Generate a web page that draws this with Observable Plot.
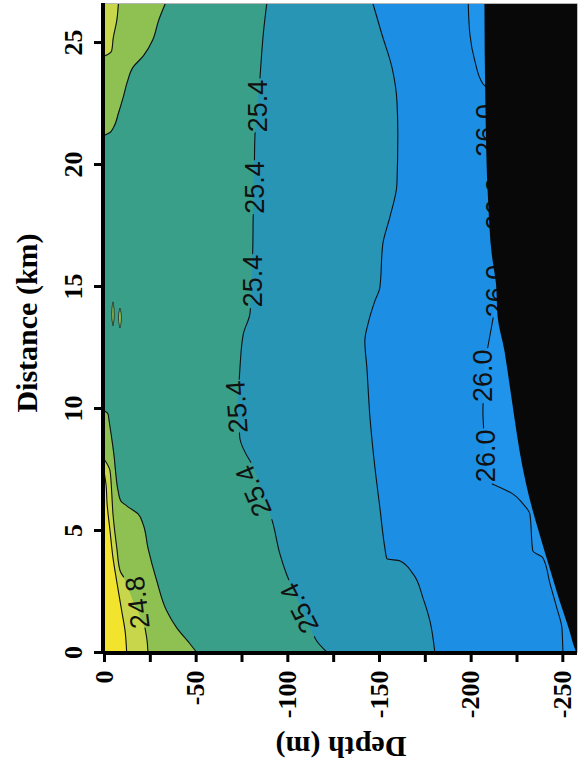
<!DOCTYPE html>
<html><head><meta charset="utf-8">
<script src="https://cdn.jsdelivr.net/npm/d3@7"></script>
<script src="https://cdn.jsdelivr.net/npm/@observablehq/plot@0.6"></script>
<style>
html,body{margin:0;padding:0;background:#fff;}
#chart{width:584px;height:769px;overflow:hidden;}
</style></head><body><div id="chart"></div>
<script>
// ---- axes ----
const distanceTicks = [0, 5, 10, 15, 20, 25];
const depthTicks = [0, -25, -50, -75, -100, -125, -150, -175, -200, -225, -250];
const depthLabelled = [0, -50, -100, -150, -200, -250];
const distanceDomain = [0, 26.6];
const depthDomain = [0, -258];

// ---- contour levels and band colours ----
const levels = ["24.5", "24.8", "25.1", "25.4", "25.7", "26.0"];
const bandColors = ["#f2e42c", "#c7d64a", "#8fc152", "#3a9f88", "#2995b4", "#1c8fe5", "#2093ea"];
const seafloorColor = "#080808";

// ---- contour lines: [distance km, depth m, drawn(1) / under a label(0)] ----
const c245Bottom = [[0,-12.1,1],[0.9,-11.2,1],[1.7,-9.4,1],[2.9,-6.7,1],[3.9,-4.6,1],[5.0,-3.0,1],[6.1,-1.4,1],[6.9,-0.8,1],[7.3,0,1]];
const c248Bottom = [[0,-23.7,1],[0.5,-23.2,1],[1.0,-22.1,1],[2.05,-16.0,0],[3.1,-10.4,1],[3.35,-8.5,1],[4.3,-6.7,1],[5.7,-4.6,1],[6.6,-3.9,1],[7.45,-3.0,1],[7.9,0,1]];
const c248Top = [[24.45,0,1],[24.52,-2.0,1],[24.66,-3.9,1],[25.2,-4.8,1],[25.9,-6.7,1],[26.6,-7.6,1]];
const c251Bottom = [[0,-50.3,1],[0.36,-46.6,1],[1.01,-39.4,1],[1.71,-33.9,1],[2.94,-28.5,1],[4.29,-23.7,1],[5.27,-21.0,1],[5.68,-18.3,1],[6.01,-12.1,1],[6.22,-8.8,1],[6.63,-7.4,1],[7.45,-6.0,1],[8.0,-5.3,1],[8.8,-3.9,1],[9.5,-2.5,1],[9.78,-1.9,1],[9.9,0,1]];
const c251Top = [[21.2,0,1],[21.3,-2.8,1],[21.5,-4.8,1],[22.1,-7.6,1],[22.75,-10.2,1],[23.4,-12.5,1],[24.0,-15.7,1],[24.45,-21.2,1],[25.1,-26.3,1],[25.9,-29.5,1],[26.6,-33.2,1]];
const c254 = [[0,-121.5,1],[0.48,-115.7,1],[0.65,-114.5,1],[1.84,-107.5,0],[2.98,-100.5,1],[3.21,-99.3,1],[4.03,-95.7,1],[5.26,-92.0,1],[5.45,-91.3,1],[6.6,-85.7,0],[7.8,-79.8,1],[7.86,-79.3,1],[8.75,-73.9,1],[9.0,-73.6,1],[10.07,-73.0,0],[11.2,-73.5,1],[11.68,-73.9,1],[13.05,-75.7,1],[13.87,-79.3,1],[14.1,-79.6,1],[15.23,-80.5,0],[16.35,-80.8,1],[16.6,-80.9,1],[17.83,-81.1,1],[17.95,-81.2,1],[19.06,-81.6,0],[20.2,-81.8,1],[21.25,-82.1,1],[21.3,-82.2,1],[22.4,-83.6,0],[23.55,-84.8,1],[23.98,-85.2,1],[25.34,-86.6,1],[26.6,-88.5,1]];
const c257 = [[0,-180.2,1],[1.3,-177.5,1],[2.24,-173.7,1],[3.23,-168.2,1],[3.76,-161.0,1],[3.84,-154.0,1],[4.3,-152.9,1],[5.94,-150.2,1],[7.58,-147.5,1],[9.63,-144.8,1],[11.68,-143.1,1],[12.77,-142.0,1],[13.46,-143.7,1],[14.41,-147.5,1],[14.96,-150.2,1],[16.74,-151.8,1],[17.83,-155.6,1],[19.2,-159.5,1],[21.25,-160.0,1],[22.61,-159.5,1],[23.98,-156.8,1],[25.34,-151.3,1],[26.6,-146.4,1]];
const c260 = [[0,-250.1,1],[0.15,-250.0,1],[1.01,-249.5,1],[1.83,-246.7,1],[2.82,-243.0,1],[3.88,-239.1,1],[4.17,-233.6,1],[5.68,-232.0,1],[6.08,-228.4,1],[6.49,-222.9,1],[6.91,-211.5,1],[8.06,-208.0,0],[9.2,-206.8,1],[9.9,-206.4,1],[10.2,-206.5,1],[11.34,-207.0,0],[12.49,-209.0,1],[13.3,-211.0,1],[13.72,-212.0,1],[14.82,-215.0,0],[15.93,-215.0,1],[16.6,-214.5,1],[17.3,-214.0,1],[18.4,-213.0,0],[19.5,-212.0,1],[20.3,-211.5,1],[21.4,-211.0,0],[22.5,-210.0,1],[23.14,-208.6,1],[23.3,-206.5,1],[24.25,-202.0,1],[25.34,-199.3,1],[26.6,-198.4,1]];

// small closed contours (islands): [id, distance, depth edge 1, depth edge 2]
const islands = [[1,13.39,-4.9,-4.9],[1,13.65,-4.3,-5.5],[1,14.05,-4.3,-5.5],[1,14.35,-4.9,-4.9],
                 [2,13.30,-8.7,-8.7],[2,13.55,-8.0,-9.4],[2,13.85,-8.0,-9.4],[2,14.09,-8.7,-8.7]];

// sea floor (black): [distance km, depth m]
const seafloor = [[0,-257.5],[0.2,-256.5],[0.89,-253.8],[2.12,-248.4],[3.48,-242.9],[4.85,-237.5],[5.81,-233.8],[6.9,-230.2],[8.27,-226.6],[9.63,-223.8],[11.01,-221.1],[12.36,-218.4],[13.73,-214.7],[15.1,-213.8],[16.3,-211.5],[18.5,-209.5],[22.6,-208.0],[26.6,-207.5]];

// contour labels: [distance km, depth m, rotation deg]
const labels248 = [[2.05,-18.3,-97]];
const labels254 = [[22.4,-83.9,-90],[19.06,-82.1,-90],[15.23,-81.0,-90],[10.07,-72.5,-94],[6.63,-81.5,-113],[1.83,-106.6,-117]];
const labels260 = [[21.4,-208.3,-90],[18.4,-213.7,-90],[14.82,-213.5,-90],[11.34,-206.7,-90],[8.06,-208.3,-90]];

// ---- build ----
const pts = arr => arr.map(([d, z, v = 1]) => ({d, z, v}));
const curve = "monotone-y";
const area = (arr, fill) => Plot.areaX(pts(arr), {y: "d", x1: 0, x2: "z", fill, curve});
const line = arr => Plot.lineX(pts(arr), {y: "d", x: p => p.v ? p.z : NaN, stroke: "#111", strokeWidth: 1.1, curve});
const lab = (arr, text) => Plot.text(arr.map(([d, z, r]) => ({d, z, r, text})), {
  x: "z", y: "d", rotate: "r", text: "text",
  fontFamily: "'Liberation Sans', Arial, sans-serif", fontWeight: "normal", fontSize: 27, fill: "#111"
});

const chart = Plot.plot({
  width: 584, height: 769,
  marginLeft: 104, marginRight: 7, marginTop: 3, marginBottom: 117,
  x: {domain: depthDomain, label: null},
  y: {domain: distanceDomain, label: null},
  style: {fontFamily: "'Liberation Serif', 'Times New Roman', serif", fontWeight: "bold", fontSize: "26px", background: "#fff", color: "#000"},
  marks: [
    Plot.frame({fill: bandColors[6], stroke: null}),
    area(c260, bandColors[5]),
    area(c257, bandColors[4]),
    area(c254, bandColors[3]),
    area(c251Bottom, bandColors[2]),
    area(c251Top, bandColors[2]),
    area(c248Bottom, bandColors[1]),
    area(c248Top, bandColors[1]),
    area(c245Bottom, bandColors[0]),
    Plot.areaX(islands.map(([id, d, z1, z2]) => ({id, d, z1, z2})), {y: "d", x1: "z1", x2: "z2", z: "id", fill: bandColors[2], stroke: "#222", strokeWidth: 0.8, curve: "catmull-rom"}),
    line(c245Bottom), line(c248Bottom), line(c248Top), line(c251Bottom), line(c251Top),
    line(c254), line(c257), line(c260),
    lab(labels260, levels[5]),
    Plot.areaX(seafloor.map(([d, z]) => ({d, z})), {y: "d", x1: "z", x2: depthDomain[1], fill: seafloorColor, curve}),
    lab(labels248, levels[1]),
    lab(labels254, levels[3]),
    Plot.ruleY([distanceDomain[1]], {stroke: "#b5b5b5", strokeWidth: 1}),
    Plot.ruleX([0], {stroke: "#000", strokeWidth: 4, dx: -1.5}),
    Plot.ruleY([0], {stroke: "#000", strokeWidth: 4, dy: 0.5}),
    Plot.axisY(distanceTicks, {anchor: "left", tickSize: 10, tickPadding: 13, tickRotate: -90, strokeWidth: 3, label: null}),
    Plot.axisX(depthTicks, {anchor: "bottom", tickSize: 10, tickPadding: 8, tickRotate: -90, strokeWidth: 3, label: null,
      tickFormat: d => depthLabelled.includes(d) ? String(d) : ""}),
    Plot.text(["Distance (km)"], {frameAnchor: "left", textAnchor: "middle", lineAnchor: "middle", dx: -77, dy: -5, rotate: -90, fontSize: 30}),
    Plot.text(["Depth (m)"], {frameAnchor: "bottom", textAnchor: "middle", lineAnchor: "middle", dy: 94, rotate: 180, fontSize: 30})
  ]
});
document.getElementById("chart").appendChild(chart);
</script>
</body></html>
